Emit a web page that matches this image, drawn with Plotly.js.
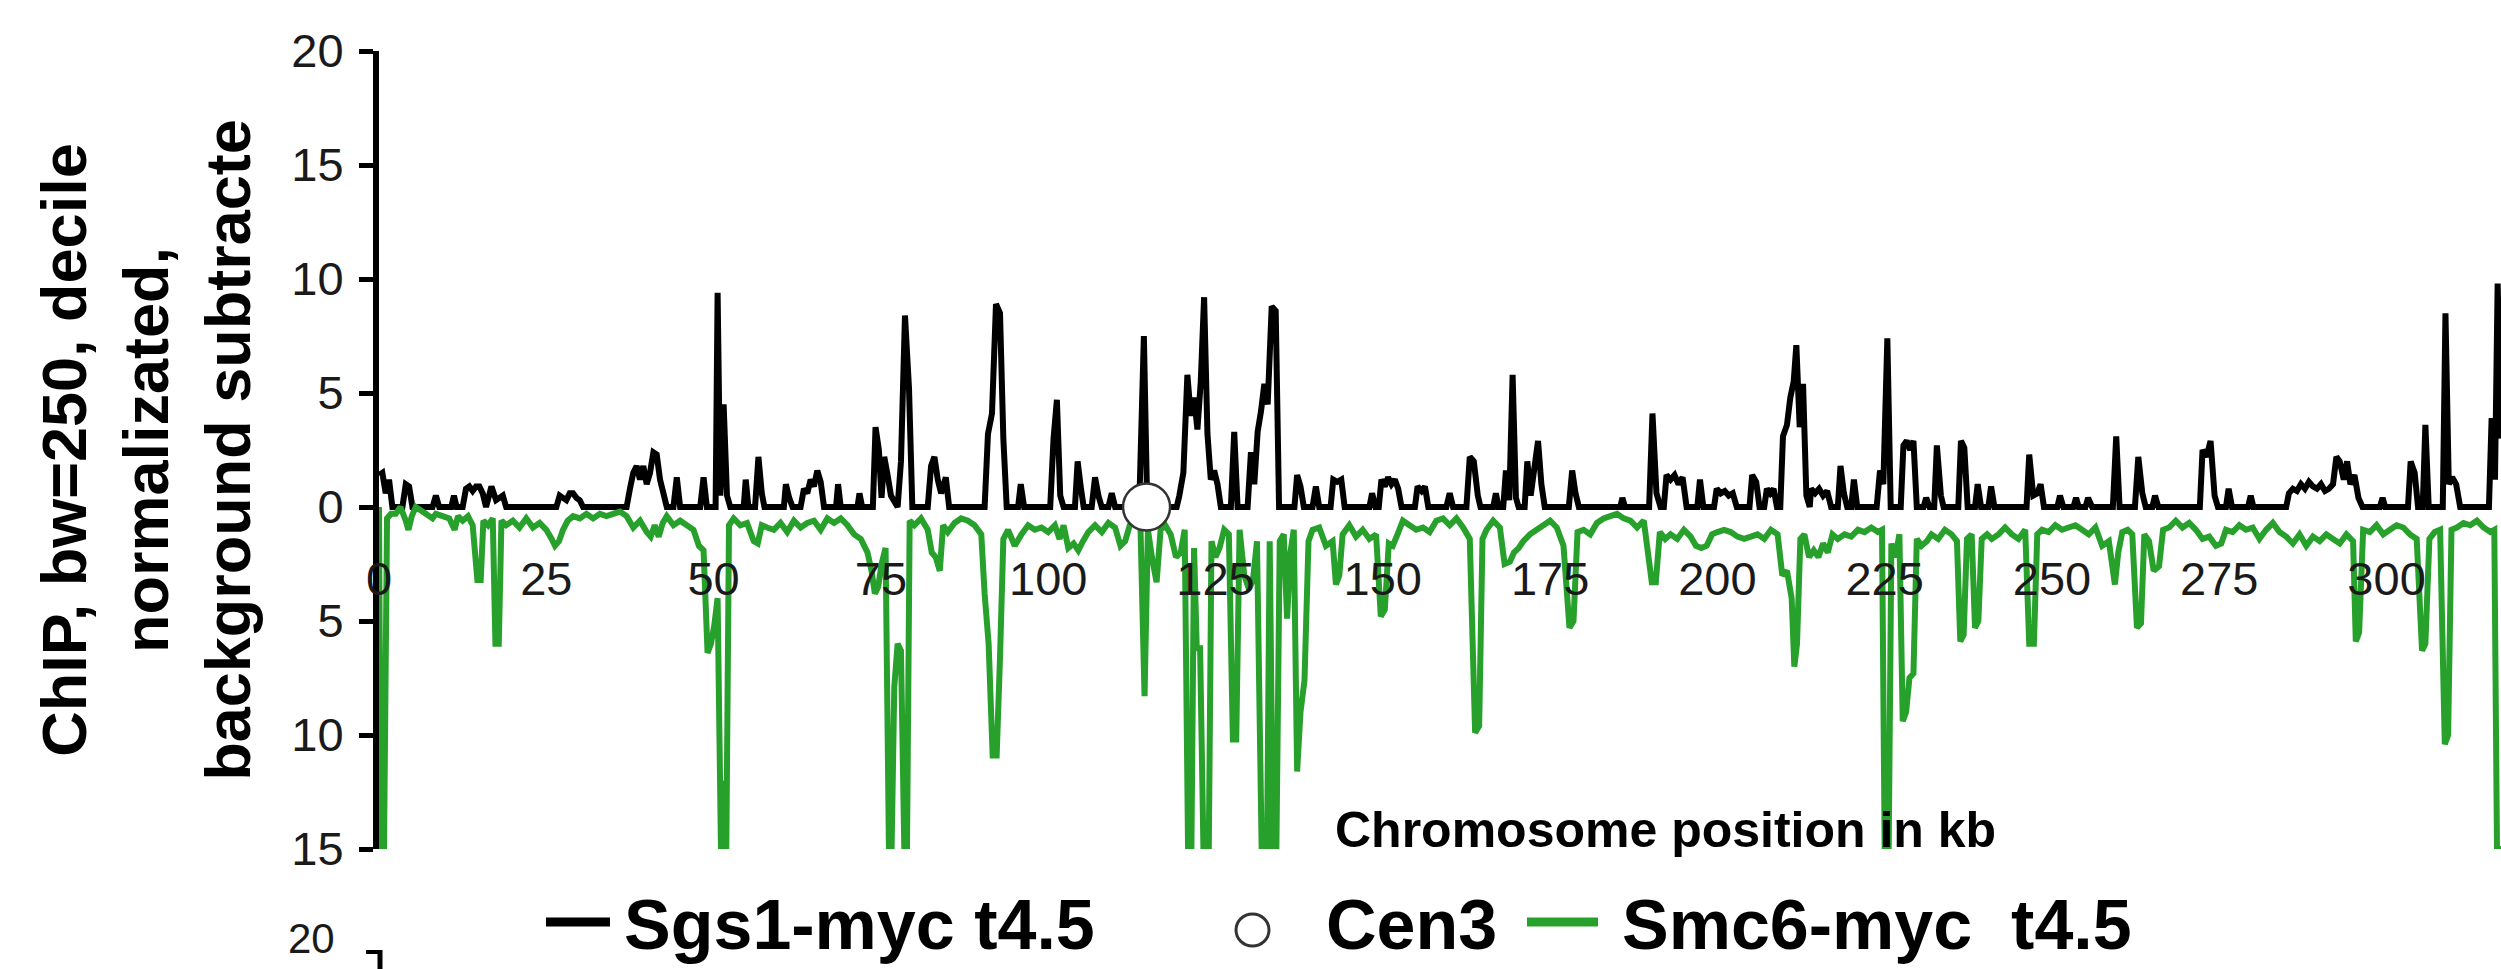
<!DOCTYPE html>
<html>
<head>
<meta charset="utf-8">
<script src="https://cdn.plot.ly/plotly-3.0.1.min.js"></script>
<style>
  html, body { margin: 0; padding: 0; background: #fff; }
  #chart { width: 2501px; height: 969px; }
</style>
</head>
<body>
<div id="chart"></div>
<script>
// ---- Data (chromosome position in kb, ChIP signal) ----
// Sgs1-myc t4.5 (drawn upward)
const sgs1Points = [
  [0,1.4],[0.5,1.5],[1.0,0.6],[1.5,1.2],[2.0,0],[3.5,0],[4.0,1.0],[4.5,0.9],[5.0,0],
  [8.0,0],[8.5,0.5],[9.0,0],[10.8,0],[11.2,0.5],[11.6,0],[12.5,0],[13.0,0.8],[13.5,0.9],
  [14.0,0.7],[14.5,0.9],[15.0,0.9],[15.5,0.6],[16.0,0],[16.8,0.9],[17.5,0.3],[18.5,0.5],[19.0,0],
  [26.5,0],[27.0,0.5],[27.5,0.4],[28.0,0.3],[28.5,0.6],[29.0,0.6],[29.5,0.4],[30.0,0.3],[30.5,0],
  [37.0,0],[37.5,0.8],[38.0,1.5],[38.5,1.8],[39.0,1.2],[39.5,1.8],[40.0,1.0],[40.5,1.5],[41.0,2.4],
  [41.5,2.3],[42.0,1.2],[42.5,0.6],[43.0,0],[44.0,0],[44.5,1.3],[45.0,0],[48.0,0],[48.5,1.3],[49.0,0],
  [50.3,0],[50.6,9.4],[51.0,0.5],[51.5,4.5],[52.0,0.5],[52.5,0],[54.5,0],[54.8,1.2],[55.2,0],
  [56.2,0],[56.7,2.2],[57.2,0.6],[57.6,0],[60.5,0],[60.8,1.0],[61.3,0.4],[61.8,0],[63.0,0],
  [63.5,0.8],[64.0,0.6],[64.5,1.2],[65.0,0.9],[65.5,1.6],[66.0,1.1],[66.5,0],[68.3,0],[68.6,1.0],
  [69.0,0],[71.5,0],[71.8,0.6],[72.2,0],[73.8,0],[74.2,3.5],[74.7,2.5],[75.1,0.4],[75.5,2.2],
  [76.0,1.4],[76.5,0.5],[77.5,0],[78.0,2.0],[78.6,8.4],[79.2,5.2],[79.7,0],[82.0,0],[82.5,1.8],
  [83.0,2.2],[83.5,1.2],[84.0,0.6],[84.7,1.3],[85.2,0],[90.5,0],[91.0,3.2],[91.6,4.1],[92.2,8.9],
  [92.8,8.5],[93.3,3.0],[93.8,0],[95.5,0],[95.9,1.0],[96.4,0],[100.3,0],[100.8,3.0],[101.3,4.7],
  [101.8,0.5],[102.3,0],[104.0,0],[104.4,2.0],[104.9,0.8],[105.3,0],[106.5,0],[107.0,1.3],[107.5,0.5],
  [108.0,0],[109.0,0],[109.5,0.6],[110.0,0],[113.6,0],[114.3,7.5],[114.8,0],[119.2,0],[119.6,0.5],
  [120.2,1.5],[120.8,5.8],[121.3,4.0],[121.8,4.8],[122.3,3.4],[122.8,5.5],[123.3,9.2],[123.8,3.2],
  [124.3,1.2],[124.8,1.6],[125.3,1.0],[125.8,0],[127.3,0],[127.8,3.3],[128.3,0],[129.8,0],[130.3,2.4],
  [130.8,1.0],[131.3,3.3],[131.8,4.2],[132.3,5.4],[132.8,4.5],[133.4,8.8],[134.0,8.6],[134.5,0],
  [136.8,0],[137.2,1.4],[137.7,0.9],[138.2,0],[139.5,0],[140.0,0.9],[140.5,0],[142.2,0],[142.6,1.2],
  [143.2,1.1],[143.8,1.2],[144.3,0],[148.0,0],[148.4,0.6],[148.9,0],[149.4,0],[149.8,1.2],[150.3,0.9],
  [150.8,1.3],[151.3,1.0],[151.8,1.2],[152.3,0.8],[152.8,0],[154.8,0],[155.2,0.9],[155.8,0.7],
  [156.3,0.9],[156.8,0],[159.5,0],[160.0,0.6],[160.5,0],[162.5,0],[163.0,2.2],[163.6,2.0],[164.2,0.5],
  [164.6,0],[166.5,0],[166.9,0.6],[167.3,0],[168.0,0],[168.4,1.6],[168.9,0.3],[169.4,5.8],[169.9,0.4],
  [170.3,0],[171.2,0],[171.6,2.0],[172.1,0.5],[173.2,2.9],[173.7,1.0],[174.2,0],[177.8,0],[178.3,1.6],
  [178.8,0.6],[179.3,0],[185.5,0],[185.8,0.4],[186.2,0],[189.8,0],[190.3,4.1],[190.9,0.6],[191.5,0],
  [192.0,0],[192.4,1.4],[193.0,1.2],[193.6,1.4],[194.2,1.0],[194.8,1.3],[195.4,0],[197.0,0],[197.4,1.2],
  [197.9,0],[199.5,0],[199.9,0.8],[200.5,0.6],[201.1,0.7],[201.7,0.5],[202.3,0.6],[202.9,0],[204.8,0],
  [205.2,1.4],[205.8,1.1],[206.3,0],[207.0,0],[207.4,0.8],[207.9,0.6],[208.4,0.8],[208.9,0],[209.4,0],
  [209.8,3.1],[210.4,3.6],[210.9,4.8],[211.4,5.5],[211.8,7.1],[212.3,3.5],[212.8,5.4],[213.3,0.5],
  [213.8,0],[214.0,0.8],[214.6,0.6],[215.2,0.8],[215.8,0.5],[216.4,0.7],[217.0,0],[218.0,0],[218.4,1.8],
  [218.9,0.6],[219.4,0],[220.0,0],[220.4,1.2],[220.9,0],[223.8,0],[224.3,1.6],[224.8,1.0],[225.4,7.4],
  [225.9,0],[227.4,0],[227.8,2.7],[228.3,2.9],[228.8,2.5],[229.3,2.9],[229.8,0],[230.8,0],[231.2,0.4],
  [231.7,0],[232.4,0],[232.8,2.7],[233.4,0.5],[233.8,0],[236.0,0],[236.4,2.9],[236.9,2.6],[237.4,0],
  [238.5,0],[238.9,1.0],[239.4,0],[240.5,0],[240.9,0.9],[241.4,0],[246.2,0],[246.6,2.3],[247.2,0.5],
  [247.8,0.6],[248.3,1.0],[248.8,0],[250.8,0],[251.2,0.5],[251.7,0],[253.2,0],[253.6,0.4],[254.0,0],
  [255.0,0],[255.4,0.4],[256.0,0],[259.1,0],[259.6,3.1],[260.1,0],[262.4,0],[262.9,2.2],[263.5,0.6],
  [264.0,0],[265.0,0],[265.4,0.5],[265.9,0],[272.1,0],[272.5,2.5],[273.1,2.2],[273.7,2.9],[274.3,0.5],
  [274.8,0],[276.0,0],[276.4,0.8],[276.9,0],[279.3,0],[279.7,0.5],[280.1,0],[285.0,0],[285.4,0.6],
  [286.0,0.8],[286.6,0.7],[287.2,1.0],[287.8,0.8],[288.4,1.1],[289.0,0.9],[289.6,0.8],[290.2,1.0],
  [290.8,0.7],[291.4,0.8],[292.0,1.0],[292.5,2.2],[293.0,2.0],[293.6,1.2],[294.1,2.0],[294.6,1.0],
  [295.2,1.4],[295.8,0.4],[296.4,0],[299.0,0],[299.4,0.4],[299.8,0],[303.2,0],[303.6,2.0],[304.2,1.5],
  [304.7,0],[305.4,0],[305.8,3.6],[306.3,0],[308.4,0],[308.8,8.5],[309.3,1.0],[309.8,1.3],[310.4,1.0],
  [311.0,0],[315.3,0],[315.7,3.9],[316.2,1.2],[316.6,9.8],[317.1,3.0]
];

// Smc6-myc t4.5 (drawn downward)
const smc6Points = [
  [0.0,0],[0.25,-15],[0.75,-15],[1.2,-0.5],[1.8,-0.3],[2.5,-0.3],[3.2,0],[4.0,-0.6],[4.4,-1.0],[4.9,-0.4],
  [5.5,0],[7.0,-0.3],[8.0,-0.5],[8.5,-0.3],[9.5,-0.4],[10.5,-0.5],[11.3,-1.0],[11.8,-0.4],[12.5,-0.6],
  [13.3,-0.4],[14.0,-0.8],[14.7,-3.2],[15.2,-3.2],[15.6,-0.6],[16.3,-0.8],[17.0,-0.5],[17.4,-6.0],
  [17.9,-6.0],[18.3,-0.6],[19.0,-0.8],[20.0,-0.6],[21.0,-0.9],[22.0,-0.5],[23.0,-0.9],[24.0,-0.7],
  [25.0,-1.0],[25.8,-1.4],[26.3,-1.7],[26.9,-1.5],[27.5,-1.0],[28.2,-0.6],[29.0,-0.4],[30.0,-0.5],
  [31.0,-0.3],[32.0,-0.5],[33.0,-0.3],[34.0,-0.4],[35.0,-0.3],[36.0,-0.2],[37.0,-0.4],[38.0,-0.9],
  [39.0,-0.6],[40.0,-1.1],[40.6,-1.3],[41.2,-0.8],[41.8,-1.3],[42.4,-0.7],[43.0,-0.4],[44.0,-0.8],
  [45.0,-0.6],[46.0,-0.8],[47.0,-1.0],[47.8,-1.7],[48.5,-1.9],[49.1,-6.4],[49.6,-6.0],[50.1,-5.2],
  [50.6,-4.0],[51.1,-15],[51.5,-12.0],[51.9,-15],[52.3,-0.8],[53.0,-0.5],[54.0,-0.8],[55.0,-0.7],
  [56.0,-1.5],[56.6,-1.6],[57.2,-0.8],[58.0,-0.9],[59.0,-1.0],[60.0,-0.7],[61.0,-1.1],[62.0,-0.6],
  [63.0,-0.9],[64.0,-0.7],[65.0,-0.6],[66.0,-1.0],[67.0,-0.5],[68.0,-0.7],[69.0,-0.5],[70.0,-0.8],
  [71.0,-1.2],[72.0,-1.4],[73.0,-2.0],[73.6,-2.8],[74.1,-3.8],[74.6,-3.5],[75.1,-2.5],[75.7,-1.8],
  [76.2,-15],[76.6,-15],[77.0,-7.9],[77.5,-6.0],[78.0,-6.3],[78.5,-15],[78.9,-15],[79.3,-0.6],
  [80.0,-0.8],[81.0,-0.5],[82.0,-1.0],[82.6,-2.0],[83.2,-2.2],[83.8,-2.8],[84.3,-0.8],[85.0,-1.1],
  [86.0,-0.7],[87.0,-0.5],[88.0,-0.6],[89.0,-0.8],[90.0,-1.2],[90.5,-3.8],[91.1,-6.0],[91.7,-10.9],
  [92.3,-10.9],[92.8,-6.6],[93.3,-1.4],[94.0,-1.0],[95.0,-1.7],[96.0,-1.2],[97.0,-0.8],[98.0,-1.0],
  [99.0,-0.9],[100.0,-1.1],[101.0,-0.8],[101.7,-1.4],[102.3,-0.8],[103.0,-1.8],[103.8,-1.6],[104.5,-1.9],
  [105.2,-1.5],[106.0,-1.1],[107.0,-0.8],[108.0,-1.1],[109.0,-0.7],[110.0,-0.9],[110.8,-1.7],[111.5,-1.5],
  [112.2,-0.8],[113.0,-0.5],[113.8,-1.0],[114.4,-8.3],[114.9,-1.0],[115.5,-2.2],[116.2,-3.3],[116.8,-1.0],
  [117.5,-0.8],[118.3,-1.2],[119.1,-2.2],[119.8,-2.0],[120.4,-1.0],[120.9,-15],[121.4,-15],[121.8,-1.8],
  [122.2,-6.2],[122.7,-6.2],[123.2,-15],[124.0,-15],[124.4,-1.5],[125.0,-2.2],[125.6,-1.8],[126.3,-1.0],
  [127.0,-1.2],[127.6,-10.2],[128.1,-10.2],[128.6,-1.0],[129.3,-3.0],[130.0,-3.6],[130.6,-3.2],[131.2,-1.5],
  [131.9,-15],[132.7,-15],[133.1,-1.5],[133.6,-15],[134.1,-15],[134.6,-1.5],[135.2,-1.2],[135.7,-4.9],
  [136.2,-2.0],[136.7,-1.0],[137.2,-11.6],[137.7,-9.0],[138.3,-7.6],[138.9,-1.5],[139.5,-1.0],[140.5,-0.9],
  [141.5,-1.7],[142.5,-1.5],[143.0,-3.4],[143.5,-3.0],[144.0,-1.2],[145.0,-0.8],[146.0,-1.3],[147.0,-1.0],
  [148.0,-1.4],[149.0,-1.2],[149.7,-4.8],[150.3,-4.5],[150.9,-1.6],[151.5,-1.7],[152.2,-1.2],[153.0,-0.6],
  [154.0,-0.8],[155.0,-1.0],[156.0,-0.9],[157.0,-1.1],[158.0,-0.6],[159.0,-0.5],[160.0,-0.8],[161.0,-0.5],
  [162.0,-0.9],[163.0,-1.4],[163.8,-9.9],[164.4,-9.6],[164.9,-1.4],[165.5,-1.0],[166.5,-0.6],[167.5,-0.9],
  [168.2,-2.5],[169.0,-2.4],[169.6,-2.0],[170.3,-1.8],[171.0,-1.5],[172.0,-1.2],[173.0,-1.0],[174.0,-0.8],
  [175.0,-0.6],[176.0,-0.9],[177.0,-1.7],[177.9,-5.3],[178.5,-5.0],[179.1,-1.1],[180.0,-1.0],[181.0,-1.2],
  [182.0,-0.7],[183.0,-0.5],[184.0,-0.4],[185.0,-0.3],[186.0,-0.5],[187.0,-0.6],[188.0,-0.9],[189.0,-0.6],
  [190.2,-3.3],[190.8,-3.3],[191.4,-1.1],[192.2,-1.4],[193.0,-1.2],[194.0,-1.4],[195.0,-1.0],[196.0,-1.3],
  [196.8,-1.7],[197.6,-1.8],[198.4,-1.7],[199.2,-1.2],[200.0,-1.1],[201.0,-1.0],[202.0,-1.1],[203.0,-1.3],
  [204.0,-1.4],[205.0,-1.3],[206.0,-1.2],[207.0,-1.4],[208.0,-1.0],[209.0,-1.2],[209.7,-3.0],[210.4,-2.8],
  [211.1,-4.0],[211.5,-7.0],[211.9,-6.0],[212.4,-1.4],[213.0,-1.2],[213.7,-2.2],[214.4,-1.9],[215.1,-2.2],
  [215.8,-1.6],[216.5,-2.0],[217.2,-1.2],[218.0,-1.4],[219.0,-1.2],[220.0,-1.3],[221.0,-1.0],[222.0,-1.1],
  [223.0,-0.9],[224.0,-1.1],[224.6,-1.0],[225.0,-15],[225.6,-15],[226.0,-1.6],[226.6,-2.2],[227.2,-1.2],
  [227.7,-9.4],[228.2,-9.0],[228.7,-7.5],[229.3,-7.3],[229.8,-1.4],[230.5,-1.7],[231.3,-1.5],[232.0,-1.2],
  [233.0,-1.4],[234.0,-1.0],[235.0,-1.2],[235.8,-1.5],[236.3,-5.9],[236.8,-5.6],[237.3,-1.4],[238.0,-1.2],
  [238.5,-5.3],[239.0,-5.0],[239.5,-1.4],[240.3,-1.2],[241.0,-1.4],[242.0,-1.2],[243.0,-0.9],[244.0,-1.2],
  [245.0,-1.4],[246.0,-1.0],[246.6,-6.0],[247.3,-6.0],[247.8,-1.2],[248.5,-1.0],[249.5,-1.1],[250.5,-0.8],
  [251.5,-1.0],[252.5,-0.9],[253.5,-0.8],[254.5,-1.0],[255.5,-1.2],[256.5,-0.9],[257.5,-1.7],[258.5,-1.5],
  [259.4,-3.4],[259.9,-2.0],[260.5,-1.1],[261.3,-1.0],[262.0,-1.2],[262.7,-5.3],[263.3,-5.1],[263.8,-1.2],
  [264.5,-1.5],[265.2,-2.8],[266.0,-2.6],[266.6,-1.0],[267.5,-0.9],[268.5,-0.6],[269.5,-0.9],[270.5,-0.7],
  [271.5,-1.0],[272.5,-1.4],[273.5,-1.3],[274.5,-1.7],[275.3,-1.6],[276.0,-1.0],[277.0,-1.1],[278.0,-0.8],
  [279.0,-1.0],[280.0,-0.9],[281.0,-1.4],[282.0,-1.0],[283.0,-0.7],[284.0,-1.1],[285.0,-1.3],[286.0,-1.6],
  [287.0,-1.2],[288.0,-1.7],[289.0,-1.3],[290.0,-1.5],[291.0,-1.2],[292.0,-1.4],[293.0,-1.6],[294.0,-1.2],
  [295.0,-1.5],[295.4,-5.9],[295.9,-5.5],[296.5,-1.0],[297.5,-1.1],[298.5,-0.8],[299.5,-1.2],[300.5,-1.0],
  [301.5,-0.8],[302.5,-0.9],[303.5,-1.2],[304.5,-1.4],[305.3,-6.3],[305.8,-6.0],[306.4,-1.4],[307.2,-1.1],
  [308.0,-1.0],[308.7,-10.4],[309.2,-10.0],[309.7,-1.0],[310.5,-0.9],[311.5,-0.7],[312.5,-0.8],[313.5,-0.6],
  [314.5,-0.9],[315.5,-1.1],[316.1,-1.0],[316.5,-15],[317.1,-15]
];

// Centromere Cen3
const cenKb = [114.7];
const cenVal = [0];

// Axis ticks
const xTickVals = [0, 25, 50, 75, 100, 125, 150, 175, 200, 225, 250, 275, 300];
const yTickVals = [-15, -10, -5, 0, 5, 10, 15, 20];
const yTickText = ['15', '10', '5', '0', '5', '10', '15', '20'];

// Legend labels
const seriesNames = ['Sgs1-myc t4.5', 'Cen3', 'Smc6-myc  t4.5'];

// ---- Figure ----
const W = 2501, H = 969;
const M = { l: 379, r: 0, t: 51, b: 120 };
const plotW = W - M.l - M.r, plotH = H - M.t - M.b;
const px = X => (X - M.l) / plotW;        // pixel -> paper x
const py = Y => (H - M.b - Y) / plotH;    // pixel -> paper y

const BLACK = '#000000';
const GREEN = '#27a12b';
const FONT = 'Liberation Sans, Arial, Helvetica, sans-serif';

const traces = [
  {
    type: 'scatter', mode: 'lines', name: seriesNames[0],
    x: sgs1Points.map(p => p[0]), y: sgs1Points.map(p => p[1]),
    line: { color: BLACK, width: 6, simplify: false },
    hoverinfo: 'x+y'
  },
  {
    type: 'scatter', mode: 'lines', name: seriesNames[2],
    x: smc6Points.map(p => p[0]), y: smc6Points.map(p => p[1]),
    line: { color: GREEN, width: 6, simplify: false },
    hoverinfo: 'x+y'
  },
  {
    type: 'scatter', mode: 'markers', name: seriesNames[1],
    x: cenKb, y: cenVal,
    marker: { symbol: 'circle', size: 47, color: '#ffffff', line: { color: '#333333', width: 2.5 } },
    cliponaxis: false
  }
];

const legendY = py(922);
const textY = py(925);

const layout = {
  width: W, height: H,
  margin: M,
  paper_bgcolor: '#ffffff', plot_bgcolor: '#ffffff',
  showlegend: false,
  font: { family: FONT, color: '#1a1a1a' },
  xaxis: {
    range: [0, 317.1],
    anchor: 'free',
    position: 15 / 35,
    showline: false, showgrid: false, zeroline: false,
    tickmode: 'array', tickvals: xTickVals,
    ticks: '',
    ticklabelstandoff: 40,
    tickfont: { family: FONT, size: 47, color: '#1a1a1a' },
    fixedrange: true
  },
  yaxis: {
    range: [-15, 20],
    showline: true, linewidth: 6, linecolor: BLACK,
    showgrid: false, zeroline: false,
    tickmode: 'array', tickvals: yTickVals, ticktext: yTickText,
    ticks: 'outside', ticklen: 14, tickwidth: 5, tickcolor: BLACK,
    ticklabelstandoff: 6,
    tickfont: { family: FONT, size: 47, color: '#1a1a1a' },
    layer: 'below traces',
    title: {
      text: 'ChIP, bw=250, decile<br>normalizated,<br>background subtracte',
      font: { family: FONT, size: 63, weight: 700, color: '#000000' },
      standoff: 22
    },
    automargin: false,
    fixedrange: true
  },
  annotations: [
    { xref: 'paper', yref: 'paper', x: px(1333), y: py(830), xanchor: 'left', yanchor: 'middle',
      text: 'Chromosome position in kb', showarrow: false,
      font: { family: FONT, size: 50, weight: 700, color: '#000000' } },
    { xref: 'paper', yref: 'paper', x: px(622), y: textY, xanchor: 'left', yanchor: 'middle',
      text: seriesNames[0], showarrow: false,
      font: { family: FONT, size: 70, weight: 700, color: '#000000' } },
    { xref: 'paper', yref: 'paper', x: px(1324), y: textY, xanchor: 'left', yanchor: 'middle',
      text: seriesNames[1], showarrow: false,
      font: { family: FONT, size: 70, weight: 700, color: '#000000' } },
    { xref: 'paper', yref: 'paper', x: px(1620), y: textY, xanchor: 'left', yanchor: 'middle',
      text: seriesNames[2].replace('  ', '&nbsp; '), showarrow: false,
      font: { family: FONT, size: 70, weight: 700, color: '#000000' } },
    // top tick label of the next panel (at the picture's lower edge)
    { xref: 'paper', yref: 'paper', x: px(337), y: py(938), xanchor: 'right', yanchor: 'middle',
      text: '20', showarrow: false,
      font: { family: FONT, size: 42, color: '#1a1a1a' } }
  ],
  shapes: [
    { type: 'line', xref: 'paper', yref: 'paper', x0: px(546), x1: px(610), y0: legendY, y1: legendY,
      line: { color: BLACK, width: 9 } },
    { type: 'circle', xref: 'paper', yref: 'paper', x0: px(1236), x1: px(1269), y0: py(946), y1: py(914),
      fillcolor: '#ffffff', line: { color: '#333333', width: 3 } },
    { type: 'line', xref: 'paper', yref: 'paper', x0: px(1527), x1: px(1598), y0: legendY, y1: legendY,
      line: { color: GREEN, width: 9 } },
    // start of the next panel's y axis
    { type: 'line', xref: 'paper', yref: 'paper', x0: px(366), x1: px(382), y0: py(952), y1: py(952),
      line: { color: BLACK, width: 4 } },
    { type: 'line', xref: 'paper', yref: 'paper', x0: px(380), x1: px(380), y0: py(950), y1: py(975),
      line: { color: BLACK, width: 5 } }
  ]
};

Plotly.newPlot('chart', traces, layout, { staticPlot: true, displayModeBar: false });
</script>
</body>
</html>
